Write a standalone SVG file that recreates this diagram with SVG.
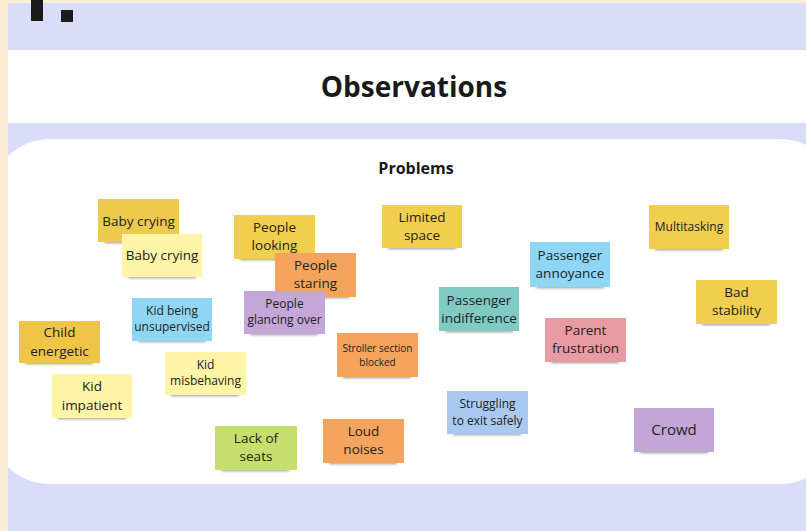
<svg xmlns="http://www.w3.org/2000/svg" width="806" height="531" viewBox="0 0 806 531">
<defs>
<filter id="sh" x="-20%" y="-100%" width="140%" height="300%"><feGaussianBlur stdDeviation="1.6"/></filter>
<style>
.t{font-family:"Open Sans","Noto Sans","Liberation Sans",sans-serif;fill:#222;text-anchor:middle}
.m{font-size:13.5px}
.s{font-size:12px}
.xs{font-size:10px}
.sd{fill:#000;opacity:0.4;filter:url(#sh)}
.dy{fill:#F0CF4F}.ly{fill:#FFF5A6}.or{fill:#F4A45D}.pu{fill:#C4A6D8}.te{fill:#7FCBC4}.bl{fill:#8ED6F3}.pk{fill:#E99BA4}.lb{fill:#A9C9F1}.gr{fill:#C6DE6C}
</style>
</defs>
<rect width="806" height="531" fill="#FDEFD6"/>
<rect x="8" y="3" width="798" height="528" fill="#D9DDF8"/>
<rect x="8" y="50" width="798" height="73" fill="#FFFFFF"/>
<rect x="-10" y="139" width="850" height="345" rx="60" fill="#FFFFFF"/>
<rect x="0" y="0" width="8" height="531" fill="#FDEFD6"/>
<rect x="31" y="0" width="12" height="21" fill="#1a1a1a"/>
<rect x="61" y="10" width="12" height="12" fill="#1a1a1a"/>
<text class="t" x="414" y="97" style="font-size:28px;font-weight:700;fill:#1a1a1a">Observations</text>
<text class="t" x="416" y="174" style="font-size:16px;font-weight:700;fill:#1a1a1a">Problems</text>

<g id="n1"><rect class="sd" x="104" y="238" width="68" height="5"/><rect class="dy" x="98" y="199" width="81" height="43" style="fill:#EDCA4C"/><text class="t m" x="138.5" y="226">Baby crying</text></g>
<g id="n2"><rect class="sd" x="128" y="273" width="68" height="5"/><rect class="ly" x="122" y="234" width="80" height="43"/><text class="t m" x="162" y="260">Baby crying</text></g>
<g id="n3"><rect class="sd" x="240" y="255" width="68" height="5"/><rect class="dy" x="234" y="215" width="81" height="44"/><text class="t m" x="274.5" y="232">People</text><text class="t m" x="274.5" y="250">looking</text></g>
<g id="n4"><rect class="sd" x="281" y="293" width="68" height="5"/><rect class="or" x="275" y="253" width="81" height="44"/><text class="t m" x="315.5" y="270">People</text><text class="t m" x="315.5" y="288">staring</text></g>
<g id="n5"><rect class="sd" x="250" y="330" width="68" height="5"/><rect class="pu" x="244" y="291" width="81" height="43"/><text class="t s" x="284.5" y="308">People</text><text class="t s" x="284.5" y="324">glancing over</text></g>
<g id="n6"><rect class="sd" x="388" y="244" width="68" height="5"/><rect class="dy" x="382" y="205" width="80" height="43"/><text class="t m" x="422" y="222">Limited</text><text class="t m" x="422" y="240">space</text></g>
<g id="n7"><rect class="sd" x="445" y="327" width="68" height="5"/><rect class="te" x="439" y="287" width="80" height="44"/><text class="t m" x="479" y="305">Passenger</text><text class="t m" x="479" y="323">indifference</text></g>
<g id="n8"><rect class="sd" x="343" y="373" width="68" height="5"/><rect class="or" x="337" y="333" width="81" height="44"/><text class="t xs" x="377.5" y="352">Stroller section</text><text class="t xs" x="377.5" y="366">blocked</text></g>
<g id="n9"><rect class="sd" x="655" y="245" width="68" height="5"/><rect class="dy" x="649" y="205" width="80" height="44"/><text class="t s" x="689" y="231">Multitasking</text></g>
<g id="n10"><rect class="sd" x="536" y="283" width="68" height="5"/><rect class="bl" x="530" y="242" width="80" height="45"/><text class="t m" x="570" y="260">Passenger</text><text class="t m" x="570" y="278">annoyance</text></g>
<g id="n11"><rect class="sd" x="702" y="320" width="68" height="5"/><rect class="dy" x="696" y="280" width="81" height="44"/><text class="t m" x="736.5" y="297">Bad</text><text class="t m" x="736.5" y="315">stability</text></g>
<g id="n12"><rect class="sd" x="551" y="358" width="68" height="5"/><rect class="pk" x="545" y="318" width="81" height="44"/><text class="t m" x="585.5" y="335">Parent</text><text class="t m" x="585.5" y="353">frustration</text></g>
<g id="n13"><rect class="sd" x="138" y="337" width="68" height="5"/><rect class="bl" x="132" y="298" width="80" height="43"/><text class="t s" x="172" y="315">Kid being</text><text class="t s" x="172" y="331">unsupervised</text></g>
<g id="n14"><rect class="sd" x="25" y="359" width="68" height="5"/><rect class="dy" x="19" y="321" width="81" height="42" style="fill:#EEC545"/><text class="t m" x="59.5" y="337">Child</text><text class="t m" x="59.5" y="356">energetic</text></g>
<g id="n15"><rect class="sd" x="58" y="414" width="68" height="5"/><rect class="ly" x="52" y="374" width="80" height="44"/><text class="t m" x="92" y="391">Kid</text><text class="t m" x="92" y="410">impatient</text></g>
<g id="n16"><rect class="sd" x="171" y="391" width="68" height="5"/><rect class="ly" x="165" y="352" width="81" height="43"/><text class="t s" x="205.5" y="369">Kid</text><text class="t s" x="205.5" y="385">misbehaving</text></g>
<g id="n17"><rect class="sd" x="221" y="466" width="68" height="5"/><rect class="gr" x="215" y="426" width="82" height="44"/><text class="t m" x="256" y="443">Lack of</text><text class="t m" x="256" y="461">seats</text></g>
<g id="n18"><rect class="sd" x="329" y="459" width="68" height="5"/><rect class="or" x="323" y="419" width="81" height="44"/><text class="t m" x="363.5" y="436">Loud</text><text class="t m" x="363.5" y="454">noises</text></g>
<g id="n19"><rect class="sd" x="453" y="430" width="68" height="5"/><rect class="lb" x="447" y="391" width="81" height="43"/><text class="t s" x="487.5" y="408">Struggling</text><text class="t s" x="487.5" y="425">to exit safely</text></g>
<g id="n20"><rect class="sd" x="640" y="448" width="68" height="5"/><rect class="pu" x="634" y="408" width="80" height="44" style="fill:#C2A6D6"/><text class="t" x="674" y="435" style="font-size:15px">Crowd</text></g>
<g id="connectors"/>
</svg>
